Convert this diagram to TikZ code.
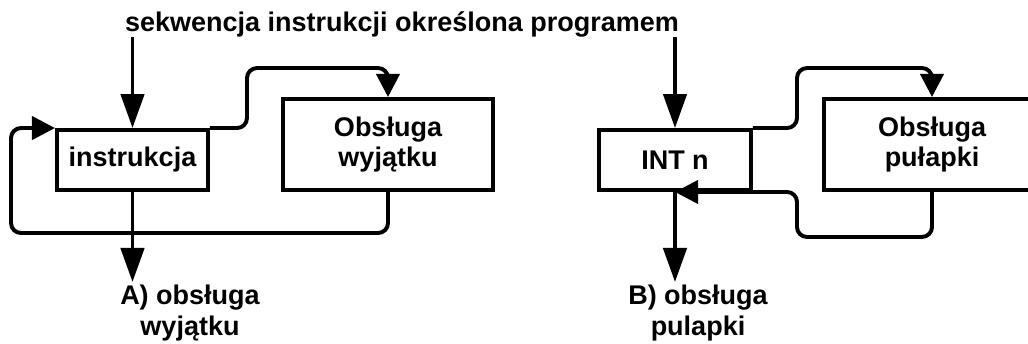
\documentclass[tikz,border=0pt]{standalone}
\usepackage{fontspec}
\setmainfont{Liberation Sans}
\usetikzlibrary{calc,arrows.meta}

\begin{document}
\begin{tikzpicture}[x = 0.025cm, y = -0.025cm,
    txt/.style = {font = \bfseries\fontsize{19.2}{22}\selectfont, align = center, inner sep = 0pt},
    box/.style = {txt, draw, line width = 2.8pt},
    conn/.style = {line width = 2.8pt, rounded corners = 0.25cm},
    longtip/.style = {-{Triangle[length = 0.85cm, width = 0.58cm]}},
    shorttip/.style = {-{Triangle[length = 0.58cm, width = 0.58cm]}}]
            \useasboundingbox (0,0) rectangle (1028,343);
            % title
            \node[txt] (title) at (402,24) {sekwencja instrukcji określona programem};

            % A) wyjatek
            \node[box, minimum width = 3.775cm, minimum height = 1.5cm] (instr) at (132.5,160) {instrukcja};
            \node[box, minimum width = 5.25cm, minimum height = 2.275cm] (obsw) at (388,144.5) {Obsługa\\wyjątku};
            \node[txt, anchor = north] (labA) at (190,285) {A) obsługa\\wyjątku};
            \path[draw, conn, longtip](title.south -| instr.north)to(instr.north);
            \path[draw, conn, shorttip](instr.north east) -- ++(37,0) |- ($(obsw.north)+(0,-29)$) -- (obsw.north);
            \path[draw, conn, shorttip](obsw.south) |- ($(instr.north west)+(-44,105)$) |- (instr.north west);
            \path[draw, conn, longtip](instr.south) -- ++(0,90);

            % B) pulapka
            \node[box, minimum width = 3.8cm, minimum height = 1.5cm] (intn) at (675,160) {INT n};
            \node[box, minimum width = 5.4cm, minimum height = 2.275cm] (obsp) at (932,144.5) {Obsługa\\pułapki};
            \node[txt, anchor = north] (labB) at (698,285) {B) obsługa\\pulapki};
            \path[draw, conn, longtip](title.south -| intn.north)to(intn.north);
            \path[draw, conn, shorttip](intn.north east) -- ++(44,0) |- ($(obsp.north)+(0,-29)$) -- (obsp.north);
            \path[draw, conn, shorttip](obsp.south) |- ($(intn.south east)+(44,45)$) |- (intn.south);
            \path[draw, conn, longtip](intn.south) -- ++(0,90);
\end{tikzpicture}
\end{document}
